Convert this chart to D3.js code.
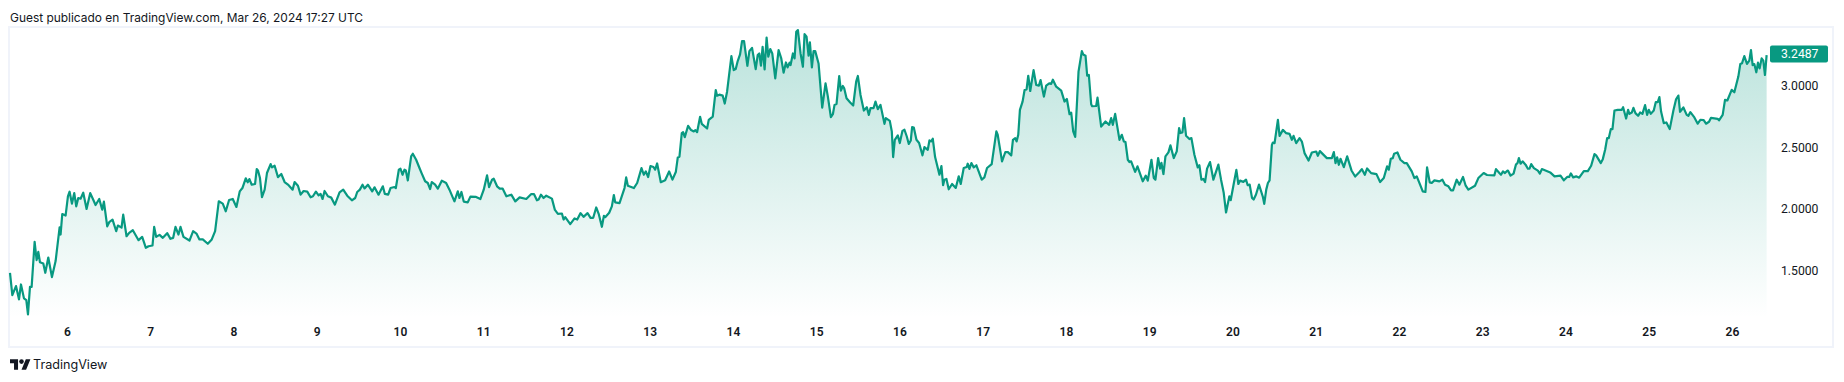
<!DOCTYPE html>
<html>
<head>
<meta charset="utf-8">
<script src="https://cdn.jsdelivr.net/npm/d3@7/dist/d3.min.js"></script>
<style>
html,body{margin:0;padding:0;background:#fff;}
svg{display:block;}
text{font-family:Inter,"Noto Sans",sans-serif;}
</style>
</head>
<body>
<svg id="chart" width="1844" height="382"></svg>
<script>
const captionText = "Guest publicado en TradingView.com, Mar 26, 2024 17:27 UTC";
const brandText = "TradingView";
const dayTicks = [6,7,8,9,10,11,12,13,14,15,16,17,18,19,20,21,22,23,24,25,26];
const priceTicks = [1.5,2.0,2.5,3.0];
const lastPrice = 3.2487;

// [day of March 2024, price]
const pricePoints = [
[5.308,1.479],[5.336,1.298],[5.380,1.371],[5.416,1.263],[5.440,1.384],[5.476,1.271],[5.504,1.257],[5.524,1.141],[5.548,1.365],[5.568,1.365],[5.604,1.730],[5.628,1.582],[5.648,1.649],[5.668,1.565],[5.708,1.554],[5.732,1.479],[5.768,1.603],[5.812,1.444],[5.856,1.574],[5.904,1.849],[5.916,1.790],[5.936,1.957],[5.976,1.944],
[6.004,2.100],[6.024,2.138],[6.052,2.041],[6.080,2.127],[6.104,2.019],[6.128,2.087],[6.156,2.081],[6.188,2.130],[6.228,1.998],[6.272,2.127],[6.304,2.079],[6.336,2.030],[6.380,2.079],[6.416,1.992],[6.436,2.057],[6.476,1.857],[6.500,1.890],[6.540,1.911],[6.584,1.817],[6.604,1.863],[6.648,1.846],[6.668,1.952],[6.708,1.776],[6.740,1.803],[6.784,1.825],[6.852,1.744],[6.896,1.771],[6.940,1.682],[6.972,1.695],
[7.020,1.701],[7.040,1.852],[7.064,1.771],[7.104,1.787],[7.144,1.763],[7.196,1.801],[7.236,1.755],[7.268,1.763],[7.296,1.852],[7.332,1.790],[7.356,1.852],[7.392,1.771],[7.464,1.741],[7.508,1.817],[7.548,1.798],[7.584,1.750],[7.624,1.750],[7.684,1.715],[7.732,1.750],[7.772,1.817],[7.816,2.060],[7.864,2.041],[7.900,1.979],[7.940,2.071],[7.984,2.079],
[8.028,2.014],[8.068,2.141],[8.100,2.168],[8.140,2.247],[8.164,2.214],[8.184,2.241],[8.212,2.195],[8.252,2.201],[8.272,2.322],[8.287,2.311],[8.311,2.249],[8.335,2.093],[8.367,2.155],[8.395,2.290],[8.439,2.363],[8.455,2.336],[8.487,2.349],[8.527,2.257],[8.567,2.282],[8.607,2.217],[8.647,2.196],[8.703,2.155],[8.727,2.217],[8.767,2.187],[8.799,2.114],[8.835,2.144],[8.879,2.139],[8.919,2.093],[8.947,2.101],[8.983,2.139],
[9.015,2.109],[9.039,2.120],[9.063,2.079],[9.087,2.144],[9.127,2.101],[9.167,2.090],[9.211,2.033],[9.267,2.133],[9.311,2.155],[9.359,2.106],[9.415,2.068],[9.455,2.087],[9.479,2.136],[9.511,2.155],[9.543,2.195],[9.567,2.165],[9.607,2.195],[9.659,2.141],[9.687,2.174],[9.735,2.114],[9.787,2.182],[9.811,2.120],[9.851,2.114],[9.879,2.168],[9.927,2.176],[9.943,2.168],[9.979,2.317],[9.999,2.325],
[10.023,2.276],[10.047,2.317],[10.063,2.311],[10.087,2.230],[10.127,2.425],[10.147,2.447],[10.187,2.398],[10.227,2.331],[10.255,2.285],[10.295,2.223],[10.327,2.209],[10.355,2.160],[10.375,2.217],[10.415,2.195],[10.447,2.163],[10.495,2.228],[10.547,2.209],[10.587,2.155],[10.647,2.060],[10.687,2.141],[10.707,2.087],[10.731,2.136],[10.759,2.058],[10.807,2.052],[10.839,2.098],[10.907,2.096],[10.959,2.079],[10.999,2.155],
[11.039,2.271],[11.063,2.176],[11.099,2.236],[11.119,2.244],[11.159,2.182],[11.191,2.163],[11.227,2.163],[11.271,2.101],[11.290,2.105],[11.330,2.114],[11.378,2.060],[11.430,2.092],[11.510,2.079],[11.570,2.119],[11.602,2.119],[11.638,2.068],[11.658,2.074],[11.686,2.114],[11.718,2.087],[11.750,2.106],[11.818,2.082],[11.854,1.990],[11.890,1.958],[11.938,1.961],[11.958,1.912],[11.978,1.931],
[12.038,1.875],[12.090,1.921],[12.122,1.912],[12.162,1.964],[12.198,1.934],[12.246,1.964],[12.282,1.926],[12.314,1.926],[12.350,2.010],[12.382,1.953],[12.418,1.853],[12.442,1.942],[12.458,1.931],[12.506,1.967],[12.538,2.019],[12.562,2.111],[12.578,2.052],[12.630,2.046],[12.690,2.168],[12.710,2.254],[12.730,2.187],[12.802,2.168],[12.842,2.209],[12.894,2.330],[12.922,2.276],[12.946,2.303],[12.974,2.257],
[13.002,2.347],[13.038,2.339],[13.058,2.317],[13.082,2.368],[13.126,2.215],[13.178,2.231],[13.226,2.303],[13.266,2.236],[13.306,2.298],[13.330,2.417],[13.350,2.423],[13.378,2.614],[13.394,2.622],[13.414,2.582],[13.454,2.674],[13.490,2.639],[13.522,2.628],[13.542,2.639],[13.562,2.622],[13.598,2.747],[13.618,2.690],[13.682,2.652],[13.702,2.722],[13.750,2.749],[13.786,2.965],[13.802,2.919],[13.830,2.927],[13.870,2.919],[13.894,2.855],[13.922,2.951],[13.974,3.241],
[14.002,3.127],[14.026,3.135],[14.050,3.200],[14.078,3.254],[14.102,3.362],[14.126,3.362],[14.166,3.162],[14.190,3.281],[14.222,3.308],[14.266,3.135],[14.290,3.249],[14.309,3.262],[14.329,3.163],[14.349,3.316],[14.373,3.133],[14.397,3.392],[14.417,3.236],[14.441,3.298],[14.465,3.263],[14.501,3.060],[14.541,3.289],[14.573,3.222],[14.601,3.106],[14.629,3.189],[14.649,3.149],[14.673,3.187],[14.685,3.168],[14.713,3.262],[14.733,3.222],[14.753,3.438],[14.773,3.452],[14.805,3.262],[14.833,3.154],[14.853,3.419],[14.877,3.398],[14.901,3.244],[14.917,3.352],[14.941,3.149],[14.961,3.281],[14.981,3.281],
[15.021,3.181],[15.065,2.822],[15.105,3.019],[15.133,2.911],[15.169,2.744],[15.193,2.768],[15.213,2.844],[15.237,2.852],[15.269,3.079],[15.289,2.960],[15.313,2.998],[15.329,2.979],[15.357,2.898],[15.401,2.863],[15.437,2.839],[15.473,3.033],[15.493,3.079],[15.525,2.925],[15.565,2.798],[15.601,2.825],[15.625,2.763],[15.645,2.817],[15.681,2.817],[15.705,2.871],[15.733,2.809],[15.765,2.844],[15.813,2.690],[15.829,2.736],[15.877,2.714],[15.901,2.628],[15.917,2.420],[15.937,2.560],[15.973,2.596],[15.997,2.534],
[16.029,2.633],[16.053,2.642],[16.081,2.587],[16.105,2.526],[16.129,2.555],[16.145,2.663],[16.165,2.660],[16.197,2.560],[16.229,2.534],[16.269,2.434],[16.293,2.501],[16.333,2.479],[16.353,2.555],[16.373,2.547],[16.393,2.569],[16.421,2.420],[16.473,2.277],[16.497,2.347],[16.517,2.191],[16.533,2.236],[16.557,2.242],[16.585,2.158],[16.625,2.201],[16.669,2.169],[16.705,2.263],[16.729,2.201],[16.765,2.331],[16.801,2.339],[16.813,2.366],[16.833,2.323],[16.857,2.371],[16.885,2.336],[16.917,2.353],[16.981,2.236],
[17.013,2.255],[17.045,2.331],[17.101,2.363],[17.157,2.628],[17.173,2.601],[17.225,2.385],[17.265,2.461],[17.296,2.460],[17.336,2.433],[17.356,2.560],[17.384,2.574],[17.400,2.547],[17.420,2.601],[17.440,2.803],[17.472,2.871],[17.496,2.965],[17.520,2.970],[17.540,3.081],[17.564,2.957],[17.604,3.127],[17.636,3.006],[17.668,3.001],[17.688,3.046],[17.728,2.911],[17.756,3.001],[17.792,3.019],[17.816,3.014],[17.836,3.049],[17.876,2.992],[17.936,2.960],[17.976,2.871],
[18.004,2.892],[18.036,2.768],[18.056,2.781],[18.080,2.628],[18.104,2.584],[18.128,2.898],[18.144,3.114],[18.184,3.281],[18.200,3.254],[18.228,3.244],[18.248,3.081],[18.268,3.087],[18.296,2.849],[18.308,2.833],[18.356,2.835],[18.372,2.903],[18.416,2.668],[18.468,2.709],[18.512,2.682],[18.536,2.736],[18.556,2.682],[18.584,2.771],[18.636,2.560],[18.664,2.601],[18.688,2.547],[18.708,2.542],[18.736,2.398],[18.756,2.379],[18.776,2.385],[18.824,2.299],[18.852,2.344],[18.916,2.223],[18.952,2.269],[18.976,2.228],
[19.020,2.398],[19.048,2.250],[19.068,2.236],[19.100,2.412],[19.124,2.326],[19.140,2.372],[19.164,2.282],[19.188,2.426],[19.224,2.458],[19.248,2.515],[19.288,2.412],[19.324,2.466],[19.352,2.655],[19.368,2.615],[19.392,2.620],[19.412,2.736],[19.436,2.593],[19.476,2.566],[19.500,2.574],[19.536,2.439],[19.576,2.336],[19.596,2.353],[19.620,2.236],[19.644,2.242],[19.664,2.217],[19.688,2.326],[19.724,2.379],[19.764,2.236],[19.824,2.358],[19.856,2.236],[19.888,2.129],[19.916,1.969],[19.956,2.101],[19.972,2.069],
[20.008,2.201],[20.040,2.315],[20.064,2.201],[20.084,2.228],[20.124,2.218],[20.156,2.236],[20.176,2.191],[20.200,2.196],[20.228,2.088],[20.248,2.075],[20.276,2.115],[20.312,2.196],[20.359,2.095],[20.375,2.039],[20.399,2.155],[20.419,2.209],[20.439,2.230],[20.467,2.519],[20.479,2.538],[20.499,2.533],[20.539,2.722],[20.559,2.592],[20.599,2.641],[20.639,2.614],[20.679,2.608],[20.707,2.560],[20.727,2.592],[20.759,2.533],[20.799,2.573],[20.827,2.546],[20.859,2.452],[20.907,2.392],[20.947,2.457],[20.999,2.465],
[21.019,2.430],[21.043,2.468],[21.127,2.411],[21.187,2.411],[21.211,2.460],[21.231,2.371],[21.251,2.417],[21.271,2.357],[21.291,2.406],[21.331,2.338],[21.371,2.425],[21.423,2.311],[21.467,2.262],[21.519,2.298],[21.547,2.322],[21.583,2.276],[21.611,2.327],[21.659,2.289],[21.723,2.281],[21.767,2.217],[21.811,2.249],[21.851,2.344],[21.871,2.317],[21.895,2.406],[21.919,2.411],[21.935,2.447],[21.975,2.457],
[22.011,2.398],[22.059,2.371],[22.087,2.371],[22.147,2.303],[22.179,2.249],[22.207,2.263],[22.247,2.195],[22.279,2.141],[22.311,2.136],[22.331,2.336],[22.363,2.214],[22.387,2.209],[22.419,2.230],[22.479,2.222],[22.515,2.236],[22.547,2.195],[22.587,2.182],[22.619,2.149],[22.643,2.149],[22.687,2.236],[22.719,2.195],[22.763,2.258],[22.795,2.187],[22.827,2.155],[22.907,2.187],[22.947,2.249],
[23.011,2.290],[23.051,2.274],[23.139,2.271],[23.159,2.322],[23.199,2.290],[23.219,2.276],[23.243,2.303],[23.267,2.290],[23.291,2.306],[23.302,2.310],[23.334,2.269],[23.370,2.285],[23.398,2.358],[23.418,2.371],[23.434,2.412],[23.454,2.366],[23.478,2.385],[23.514,2.358],[23.542,2.325],[23.562,2.325],[23.582,2.363],[23.614,2.330],[23.662,2.309],[23.686,2.285],[23.710,2.322],[23.782,2.303],[23.810,2.295],[23.862,2.263],[23.934,2.269],[23.974,2.231],
[24.014,2.258],[24.038,2.258],[24.058,2.287],[24.086,2.255],[24.122,2.263],[24.158,2.252],[24.214,2.306],[24.262,2.306],[24.302,2.349],[24.342,2.444],[24.362,2.433],[24.418,2.371],[24.442,2.403],[24.470,2.479],[24.494,2.574],[24.514,2.574],[24.538,2.647],[24.558,2.647],[24.582,2.798],[24.622,2.804],[24.670,2.804],[24.686,2.825],[24.722,2.733],[24.746,2.804],[24.762,2.771],[24.790,2.782],[24.810,2.820],[24.834,2.777],[24.866,2.755],[24.890,2.782],[24.918,2.771],[24.950,2.842],[24.974,2.763],[24.994,2.804],
[25.018,2.771],[25.054,2.798],[25.078,2.866],[25.102,2.866],[25.122,2.907],[25.142,2.790],[25.174,2.696],[25.206,2.701],[25.246,2.647],[25.290,2.798],[25.322,2.890],[25.350,2.920],[25.370,2.788],[25.410,2.823],[25.450,2.763],[25.470,2.755],[25.494,2.785],[25.542,2.742],[25.582,2.691],[25.614,2.723],[25.654,2.720],[25.682,2.691],[25.718,2.707],[25.742,2.739],[25.822,2.731],[25.838,2.718],[25.882,2.763],[25.910,2.885],[25.938,2.880],[25.990,2.966],
[26.022,2.947],[26.070,3.074],[26.094,3.177],[26.114,3.182],[26.142,3.241],[26.174,3.177],[26.202,3.204],[26.222,3.290],[26.242,3.168],[26.262,3.176],[26.286,3.109],[26.306,3.187],[26.326,3.141],[26.350,3.222],[26.370,3.204],[26.390,3.087],[26.410,3.2487]
];

const GREEN = "#089981";
const svg = d3.select("#chart");
const x = d3.scaleLinear().domain([6,26]).range([67.6,1732.5]);
const y = d3.scaleLinear().domain([2,3]).range([208.7,85.7]);
const paneBottom = 318;

const grad = svg.append("defs").append("linearGradient")
  .attr("id","fillGrad").attr("gradientUnits","userSpaceOnUse")
  .attr("x1",0).attr("x2",0).attr("y1",28).attr("y2",paneBottom);
grad.append("stop").attr("offset",0).attr("stop-color",GREEN).attr("stop-opacity",0.28);
grad.append("stop").attr("offset",1).attr("stop-color",GREEN).attr("stop-opacity",0);

// frame
svg.append("rect").attr("x",9).attr("y",27).attr("width",1824).attr("height",320)
  .attr("fill","#fff").attr("stroke","#f0f3fa").attr("stroke-width",2);

// area and line
svg.append("path").datum(pricePoints)
  .attr("fill","url(#fillGrad)")
  .attr("d",d3.area().x(d=>x(d[0])).y0(paneBottom).y1(d=>y(d[1])));
svg.append("path").datum(pricePoints)
  .attr("fill","none").attr("stroke",GREEN).attr("stroke-width",2.2)
  .attr("stroke-linejoin","round")
  .attr("d",d3.line().x(d=>x(d[0])).y(d=>y(d[1])));

// x axis
const xAxis = svg.append("g").attr("transform","translate(-0.6,327)")
  .call(d3.axisBottom(x).tickValues(dayTicks).tickFormat(d3.format("d")).tickSize(0).tickPadding(0));
xAxis.select(".domain").remove();
xAxis.selectAll("text").attr("dy","0.71em").attr("font-size",12).attr("font-weight",600)
  .attr("fill","#131722").style("font-family","Roboto,Inter,sans-serif");

// y axis
const yAxis = svg.append("g").attr("transform","translate(1781,0)")
  .call(d3.axisRight(y).tickValues(priceTicks).tickFormat(d3.format(".4f")).tickSize(0).tickPadding(0));
yAxis.select(".domain").remove();
yAxis.selectAll("text").attr("font-size",12.2).attr("fill","#131722")
  .style("font-family","Roboto,Inter,sans-serif");

// last price label
svg.append("rect").attr("x",1770).attr("y",y(lastPrice)-9.5).attr("width",58).attr("height",17).attr("rx",2).attr("fill",GREEN);
svg.append("text").attr("x",1781).attr("y",y(lastPrice)-1).attr("dy","0.32em")
  .attr("font-size",12.2).attr("fill","#fff").style("font-family","Roboto,Inter,sans-serif")
  .text(d3.format(".4f")(lastPrice));

// caption
svg.append("text").attr("x",10).attr("y",22).attr("font-size",11.93).attr("fill","#131722").text(captionText);

// brand
svg.append("g").attr("transform","translate(10,357) scale(0.575)")
  .call(g=>{
    g.append("path").attr("d","M14 22H7V11H0V4h14v18zM28 22h-8l7.5-18h8L28 22z").attr("fill","#131722");
    g.append("circle").attr("cx",20).attr("cy",8).attr("r",4).attr("fill","#131722");
  });
svg.append("text").attr("x",33).attr("y",369).attr("font-size",12.6).attr("fill","#131722").text(brandText);
</script>
</body>
</html>
